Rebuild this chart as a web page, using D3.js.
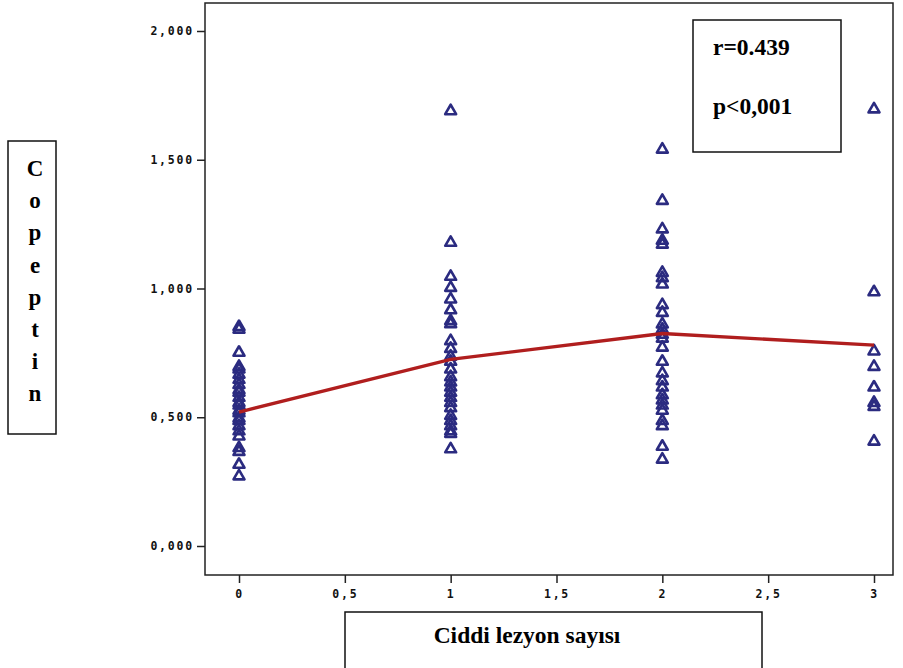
<!DOCTYPE html>
<html><head><meta charset="utf-8">
<script src="https://cdn.jsdelivr.net/npm/d3@7"></script>
<style>body{margin:0;background:#fff}</style>
</head><body>
<svg id="c" width="903" height="668"></svg>
<script>
const categories = [0, 1, 2, 3];
const group0 = [0.855, 0.845, 0.755, 0.70, 0.69, 0.67, 0.65, 0.63, 0.61, 0.60, 0.58, 0.56, 0.55, 0.53, 0.52, 0.50, 0.49, 0.47, 0.45, 0.43, 0.385, 0.37, 0.32, 0.275];
const group1 = [1.693, 1.182, 1.05, 1.007, 0.962, 0.92, 0.878, 0.866, 0.80, 0.77, 0.74, 0.72, 0.69, 0.66, 0.64, 0.62, 0.60, 0.58, 0.56, 0.54, 0.51, 0.49, 0.47, 0.45, 0.44, 0.38];
const group2 = [1.544, 1.345, 1.234, 1.19, 1.175, 1.065, 1.045, 1.02, 0.94, 0.91, 0.865, 0.845, 0.825, 0.81, 0.775, 0.72, 0.675, 0.645, 0.62, 0.59, 0.57, 0.55, 0.53, 0.49, 0.47, 0.39, 0.34];
const group3 = [1.70, 0.99, 0.76, 0.70, 0.62, 0.56, 0.545, 0.41];
const meanLine = [0.52, 0.725, 0.825, 0.78];
const yTicks = [0, 0.5, 1, 1.5, 2];
const xTicks = [0, 0.5, 1, 1.5, 2, 2.5, 3];
const statLines = ["r=0.439", "p<0,001"];
const xTitle = "Ciddi lezyon sayısı";
const yTitle = "Copeptin";

const svg = d3.select("#c");
const x = d3.scaleLinear().domain([0, 3]).range([239, 874]);
const y = d3.scaleLinear().domain([0, 2]).range([546, 31]);
const frame = {l: 205, r: 893, t: 3, b: 575};

svg.append("rect").attr("x", frame.l).attr("y", frame.t)
  .attr("width", frame.r - frame.l).attr("height", frame.b - frame.t)
  .attr("fill", "none").attr("stroke", "#222").attr("stroke-width", 1.5);

const fmtY = v => d3.format(".3f")(v).replace(".", ",");
const fmtX = v => (Number.isInteger(v) ? String(v) : String(v).replace(".", ","));
const tickFont = "'DejaVu Sans Mono', monospace";

const yAxis = svg.append("g").attr("transform", `translate(${frame.l},0)`)
  .call(d3.axisLeft(y).tickValues(yTicks).tickFormat(fmtY).tickSize(8).tickPadding(3));
const xAxis = svg.append("g").attr("transform", `translate(0,${frame.b})`)
  .call(d3.axisBottom(x).tickValues(xTicks).tickFormat(fmtX).tickSize(8).tickPadding(7));
[yAxis, xAxis].forEach(a => {
  a.select(".domain").remove();
  a.selectAll("line").attr("stroke", "#222").attr("stroke-width", 1.5);
  a.selectAll("text").attr("font-family", tickFont).attr("font-weight", "bold")
    .attr("font-size", 11.5).attr("fill", "#111").style("letter-spacing", "1.8px");
});

const groups = [group0, group1, group2, group3];
const pts = [];
groups.forEach((g, i) => g.forEach(v => pts.push({c: categories[i], v})));
const tri = d3.symbol().type(d3.symbolTriangle).size(52);
svg.append("g").selectAll("path").data(pts).join("path")
  .attr("d", tri)
  .attr("transform", d => `translate(${x(d.c)},${y(d.v) + 1})`)
  .attr("fill", "none").attr("stroke", "#2b2b80").attr("stroke-width", 2.6)
  .attr("stroke-linejoin", "round");

const line = d3.line().x((d, i) => x(categories[i])).y(d => y(d));
svg.append("path").datum(meanLine).attr("d", line)
  .attr("fill", "none").attr("stroke", "#b01e1e").attr("stroke-width", 3.4);

const serif = "'Liberation Serif', 'Times New Roman', serif";
// stat box
svg.append("rect").attr("x", 693).attr("y", 20).attr("width", 148).attr("height", 132)
  .attr("fill", "#fff").attr("stroke", "#111").attr("stroke-width", 1.5);
svg.append("g").selectAll("text").data(statLines).join("text")
  .attr("x", 713).attr("y", (d, i) => 55 + i * 59)
  .attr("font-family", serif).attr("font-weight", "bold")
  .attr("font-size", 23.5).attr("fill", "#000").text(d => d);

// y title box
svg.append("rect").attr("x", 8).attr("y", 141).attr("width", 48).attr("height", 293)
  .attr("fill", "#fff").attr("stroke", "#111").attr("stroke-width", 1.5);
svg.append("g").selectAll("text").data(yTitle.split("")).join("text")
  .attr("x", 35).attr("y", (d, i) => 176 + i * 32.2).attr("text-anchor", "middle")
  .attr("font-family", serif).attr("font-weight", "bold")
  .attr("font-size", 23).attr("fill", "#000").text(d => d);

// x title box
svg.append("rect").attr("x", 345).attr("y", 612).attr("width", 417).attr("height", 60)
  .attr("fill", "#fff").attr("stroke", "#111").attr("stroke-width", 1.5);
svg.append("text").attr("x", 527).attr("y", 643).attr("text-anchor", "middle")
  .attr("font-family", serif).attr("font-weight", "bold")
  .attr("font-size", 23.5).attr("fill", "#000").text(xTitle);
</script>
</body></html>
